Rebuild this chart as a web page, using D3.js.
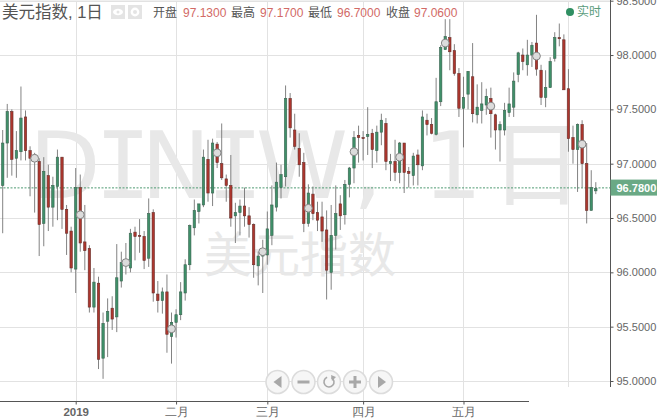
<!DOCTYPE html>
<html><head><meta charset="utf-8">
<script src="https://cdnjs.cloudflare.com/ajax/libs/d3/7.8.5/d3.min.js"></script>
<style>html,body{margin:0;padding:0;background:#fff;overflow:hidden}svg{display:block;font-family:"Liberation Sans","Noto Sans CJK SC",sans-serif}</style>
</head><body><svg id="c" width="657" height="420"></svg>
<script>
const open=[96.80,97.19,97.48,97.05,97.11,97.43,97.12,97.08,97.02,96.45,96.89,96.60,96.79,97.06,96.58,96.38,96.03,96.78,96.28,96.22,95.68,95.90,95.21,95.55,95.67,95.59,95.92,96.07,96.04,96.37,96.34,96.33,96.13,96.55,95.80,95.74,95.82,95.41,95.54,95.61,95.81,96.07,96.41,96.56,96.62,97.04,96.73,97.18,97.00,96.86,96.80,96.52,96.55,96.61,96.52,96.44,96.06,96.15,96.16,96.34,96.60,96.78,96.88,97.60,97.31,97.14,97.01,96.45,96.72,96.55,96.51,96.39,96.00,96.34,96.63,96.53,96.81,96.96,97.26,97.24,97.25,97.28,97.12,97.29,97.37,97.00,97.02,96.92,97.19,96.93,96.89,97.08,96.98,97.40,97.36,97.27,97.57,98.05,98.16,98.04,97.83,97.51,97.64,97.80,97.45,97.49,97.54,97.60,97.45,97.31,97.31,97.47,97.52,97.82,98.00,97.91,98.00,98.11,97.86,97.61,97.70,97.97,98.16,98.14,97.69,97.24,97.13,97.36,97.00,96.57,96.75];
const close=[97.19,97.48,97.04,97.12,97.42,97.12,97.05,97.02,96.44,96.93,96.60,96.80,97.06,96.58,96.36,96.04,96.78,96.27,96.20,95.68,95.91,95.20,95.53,95.64,95.57,95.95,96.09,96.11,96.36,96.33,96.33,96.11,96.54,95.81,95.74,95.82,95.43,95.54,95.61,95.82,96.07,96.43,96.57,96.63,97.06,96.73,97.19,97.01,96.87,96.80,96.50,96.55,96.61,96.52,96.44,96.07,96.15,96.21,96.40,96.62,96.83,96.90,97.60,97.33,97.16,96.99,96.45,96.73,96.54,96.48,96.38,96.02,96.34,96.54,96.52,96.81,96.96,97.24,97.24,97.23,97.27,97.13,97.29,97.40,97.02,97.02,96.92,97.19,96.92,96.91,97.07,96.99,97.43,97.36,97.28,97.57,98.07,98.17,98.03,97.83,97.51,97.61,97.85,97.46,97.52,97.55,97.62,97.46,97.31,97.36,97.49,97.55,97.76,98.02,97.94,98.00,98.09,97.87,97.61,97.70,97.94,98.16,98.15,97.68,97.23,97.13,97.36,97.00,96.57,96.78,96.77];
const high=[97.31,97.55,97.50,97.30,97.71,97.49,97.16,97.10,97.05,97.06,96.99,96.88,97.13,97.06,96.62,96.42,96.96,96.90,96.62,96.25,96.04,95.96,95.63,95.76,95.78,96.26,96.19,96.27,96.40,96.42,96.49,96.38,96.68,96.58,95.92,95.86,95.98,95.63,95.66,95.91,96.12,96.44,96.67,96.63,97.13,97.22,97.23,97.20,97.37,96.90,97.08,96.64,96.67,96.78,96.60,96.45,96.19,96.30,96.56,96.80,97.01,96.99,97.72,97.65,97.46,97.28,97.10,96.81,96.79,96.65,96.65,96.57,96.62,96.80,96.71,96.85,96.97,97.30,97.35,97.30,97.52,97.32,97.35,97.46,97.42,97.09,97.22,97.20,97.19,96.97,97.10,97.13,97.49,97.46,97.42,97.79,98.09,98.33,98.33,98.10,97.88,97.80,97.85,98.11,97.73,97.75,97.69,97.70,97.46,97.39,97.56,97.70,97.84,98.03,98.06,98.14,98.12,98.37,97.91,97.86,97.98,98.21,98.29,98.19,97.87,97.35,97.37,97.40,97.19,96.94,96.83];
const low=[96.36,96.87,96.89,96.87,97.03,97.03,96.70,96.55,96.15,96.24,96.38,96.42,96.48,96.40,96.16,96.00,95.81,96.19,96.02,95.63,95.63,95.11,95.02,95.22,95.47,95.45,95.86,95.98,96.00,96.11,96.18,96.03,96.05,95.73,95.63,95.62,95.26,95.16,95.40,95.56,95.74,96.02,96.34,96.45,96.60,96.65,96.61,96.96,96.85,96.65,96.42,96.27,96.34,96.42,96.32,95.95,95.88,95.81,96.07,96.25,96.56,96.68,96.79,97.24,97.13,96.88,96.37,96.42,96.48,96.38,96.28,95.75,95.84,96.21,96.39,96.44,96.69,96.82,97.01,97.03,97.08,96.96,97.01,97.17,96.94,96.84,96.84,96.82,96.73,96.78,96.80,96.80,96.94,97.26,97.27,97.26,97.53,98.05,97.86,97.81,97.43,97.15,97.50,97.38,97.37,97.37,97.45,97.24,97.13,97.02,97.26,97.43,97.43,97.75,97.86,97.81,97.89,97.81,97.54,97.52,97.70,97.94,98.08,97.68,97.11,97.00,96.74,96.78,96.45,96.57,96.72];
const markerIndex=[7,17,27,37,47,57,67,77,87,97,107,117,127];
const markerValue=[97.05,96.53,96.09,95.48,97.10,96.19,96.59,97.11,97.06,98.11,97.53,97.99,97.18];
const yTicks=[95,95.5,96,96.5,97,97.5,98,98.5];
const monthIndex=[16,38,58,79,101,124];
const monthLabels=["2019","二月","三月","四月","五月",""];
const lastPrice=96.78;
const headerItems=[["开盘","97.1300"],["最高","97.1700"],["最低","96.7000"],["收盘","97.0600"]];
const watermarkGlyphs=["D","I","N","I","W",","," ","1","日"];
const watermarkX=[29,95,141,207,256,353,400,423,490];

const svg=d3.select("#c");
const x=d3.scaleLinear().domain([0,130]).range([2.7,595.8]);
const y=d3.scaleLinear().domain([95,98.5]).range([381,0.7]);
const axisX=610.5, axisY=401.5;

// grid
svg.append("g").selectAll("line").data(yTicks).join("line")
 .attr("x1",0).attr("x2",axisX).attr("y1",d=>Math.round(y(d))+.5).attr("y2",d=>Math.round(y(d))+.5).attr("stroke","#e2e2e2");
svg.append("g").selectAll("line").data(monthIndex).join("line")
 .attr("x1",d=>Math.round(x(d))+.5).attr("x2",d=>Math.round(x(d))+.5).attr("y1",0).attr("y2",axisY).attr("stroke","#e2e2e2");

// watermark
svg.append("text").attr("y",198).attr("font-size",93).attr("fill","#e8e8e8").attr("xml:space","preserve")
 .selectAll("tspan").data(watermarkGlyphs).join("tspan")
 .attr("x",(d,i)=>watermarkX[i])
 .attr("font-family",d=>d==="I"?'"DejaVu Sans Mono"':'"DejaVu Sans","Noto Sans CJK SC"')
 .text(d=>d);
svg.append("text").attr("x",204).attr("y",272).attr("font-size",48).attr("fill","#e8e8e8").attr("font-family","Noto Sans CJK SC").text("美元指数");

// last price line
svg.append("line").attr("x1",0).attr("x2",axisX).attr("y1",y(lastPrice)+.3).attr("y2",y(lastPrice)+.3).attr("stroke","#4f9a72").attr("stroke-dasharray","2,1.5");

// candles
const idx=d3.range(open.length);
const up=i=>close[i]>=open[i];
const g=svg.append("g");
g.selectAll("line").data(idx).join("line")
 .attr("x1",i=>x(i)).attr("x2",i=>x(i)).attr("y1",i=>y(high[i])).attr("y2",i=>y(low[i])).attr("stroke","#757575").attr("stroke-width",.9);
g.selectAll("rect").data(idx).join("rect")
 .attr("x",i=>x(i)-1.2).attr("width",2.4)
 .attr("y",i=>y(Math.max(open[i],close[i])))
 .attr("height",i=>Math.max(1,Math.abs(y(open[i])-y(close[i]))))
 .attr("fill",i=>up(i)?"#3f9069":"#ad362e").attr("stroke",i=>up(i)?"#3a6350":"#662f2a").attr("stroke-width",.6);

// markers
svg.append("g").selectAll("circle").data(markerIndex).join("circle")
 .attr("cx",d=>x(d)).attr("cy",(d,i)=>y(markerValue[i])).attr("r",3.9)
 .attr("fill","#dcdcdc").attr("stroke","#858585").attr("stroke-width",1);

// axes
const ya=svg.append("g").attr("transform",`translate(${axisX},0)`)
 .call(d3.axisRight(y).tickValues(yTicks).tickFormat(d3.format(".4f")).tickSize(3).tickPadding(3).tickSizeOuter(0));
ya.select(".domain").attr("stroke","#555").attr("d",`M0,0V${axisY}`);
ya.selectAll(".tick line").attr("stroke","#555");
ya.selectAll("text").attr("font-size",11).attr("fill","#666").attr("font-family","Liberation Sans");
const tickScale=d3.scaleOrdinal(monthIndex,monthLabels);
const xa=svg.append("g").attr("transform",`translate(0,${axisY})`)
 .call(d3.axisBottom(x).tickValues(monthIndex).tickFormat(d=>tickScale(d)).tickSize(3).tickPadding(3).tickSizeOuter(0));
xa.select(".domain").attr("stroke","#555").attr("d",`M0,0H${axisX}`);
xa.selectAll(".tick line").attr("stroke","#555");
xa.selectAll("text").attr("font-size",11.5).attr("fill","#666").attr("font-weight",d=>tickScale(d)==="2019"?"bold":"normal");

// erased corner
svg.append("rect").attr("x",529).attr("y",387).attr("width",128).attr("height",33).attr("fill","#fff");

// last price tag
svg.append("rect").attr("x",axisX).attr("y",y(lastPrice)-8).attr("width",47).attr("height",16).attr("fill","#6aa985");
svg.append("text").attr("x",616.5).attr("y",y(lastPrice)+4).attr("font-size",11).attr("font-weight","bold").attr("fill","#fff").text(d3.format(".4f")(lastPrice));

// header
svg.append("rect").attr("x",0).attr("y",0).attr("width",610).attr("height",1).attr("fill","#f0f0f0");
svg.append("text").attr("x",2).attr("y",18).attr("font-size",16.5).attr("fill","#555").text("美元指数, 1日");
[[111,"e"],[128,"g"]].forEach(([px,k])=>{
 svg.append("rect").attr("x",px).attr("y",5).attr("width",14).attr("height",14).attr("fill","#e4e4e4");
 if(k==="e"){svg.append("ellipse").attr("cx",px+7).attr("cy",12).attr("rx",5).attr("ry",3.2).attr("fill","#fff");svg.append("circle").attr("cx",px+7).attr("cy",12).attr("r",1.5).attr("fill","#e4e4e4");}
 else{svg.append("circle").attr("cx",px+7).attr("cy",12).attr("r",3.2).attr("fill","none").attr("stroke","#fff").attr("stroke-width",2.4);}
});
const labelX=[153,231,308,386], valueX=[183,260,337,414];
headerItems.forEach((d,i)=>{
 svg.append("text").attr("x",labelX[i]).attr("y",17).attr("font-size",12).attr("fill","#555").text(d[0]);
 svg.append("text").attr("x",valueX[i]).attr("y",17).attr("font-size",12).attr("fill","#d26a66").text(d[1]);
});
svg.append("circle").attr("cx",570).attr("cy",12).attr("r",4).attr("fill","#2f8f62");
svg.append("text").attr("x",577).attr("y",16).attr("font-size",12).attr("fill","#5a9c7c").text("实时");

// navigator
const navX=[277.5,303.5,329,355,381], navY=382;
const nav=svg.append("g");
navX.forEach((cx,i)=>{
 nav.append("circle").attr("cx",cx).attr("cy",navY).attr("r",11.5).attr("fill","#f6f6f6").attr("stroke","#dcdcdc").attr("stroke-width",1.6);
 const c="#a8a8a8";
 const t=`translate(${cx},${navY})`;
 if(i===0) nav.append("path").attr("transform",t).attr("d","M4,-6V6L-4,0Z").attr("fill",c);
 if(i===4) nav.append("path").attr("transform",t).attr("d","M-3,-6V6L5,0Z").attr("fill",c);
 if(i===1) nav.append("rect").attr("x",cx-6).attr("y",navY-1.5).attr("width",12).attr("height",3).attr("fill",c);
 if(i===3) nav.append("path").attr("transform",t).attr("d","M-6,-1.5H-1.5V-6H1.5V-1.5H6V1.5H1.5V6H-1.5V1.5H-6Z").attr("fill",c);
 if(i===2){nav.append("path").attr("transform",t).attr("d",d3.arc()({innerRadius:4.2,outerRadius:5.8,startAngle:0.5,endAngle:5.9})).attr("fill",c);
  nav.append("path").attr("transform",t).attr("d","M2,-7L7,-5L3,-1Z").attr("fill",c);}
});
</script></body></html>
